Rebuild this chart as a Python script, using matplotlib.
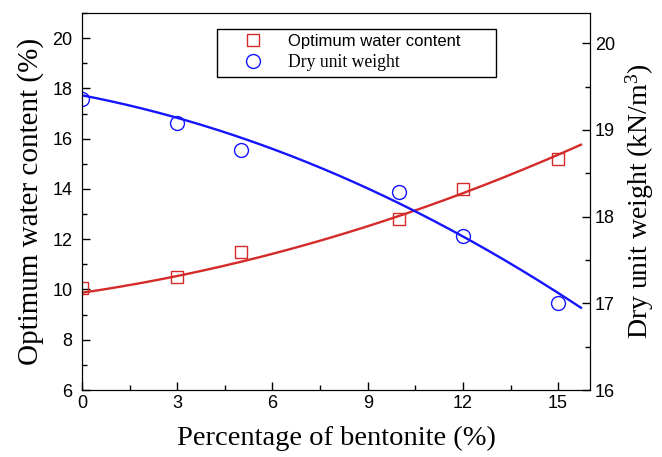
import numpy as np
import matplotlib
matplotlib.use("Agg")
import matplotlib.pyplot as plt
from matplotlib.lines import Line2D
from matplotlib.ticker import MultipleLocator

plt.rcParams['mathtext.fontset'] = 'custom'
plt.rcParams['mathtext.rm'] = 'Liberation Serif'
plt.rcParams['mathtext.it'] = 'Liberation Serif:italic'

# bentonite content (%)
bentonite = [0, 3, 5, 10, 12, 15]
# optimum water content (%), left axis
owc = [10.05, 10.5, 11.5, 12.8, 14.0, 15.2]
# dry unit weight (kN/m3), right axis
dry_weight = [19.36, 19.08, 18.77, 18.28, 17.78, 17.0]

# fitted curves as drawn in the figure: y = c0 + c1*x + c2*x^2
owc_fit = [9.87, 0.186, 0.012]
dw_fit = [19.40, -0.0704, -0.00544]
fit_xmax = 15.72

red = '#d42a2a'
blue = '#1414ff'
serif = 'Liberation Serif'
sans = 'Liberation Sans'

fig = plt.figure(figsize=(6.62, 4.57), dpi=100)
ax = fig.add_axes([0.124, 0.1466, 0.767, 0.825])
ax2 = ax.twinx()

xf = np.linspace(0, fit_xmax, 200)
ax.plot(xf, np.polyval(owc_fit[::-1], xf), color=red, lw=1.7)
ax2.plot(xf, np.polyval(dw_fit[::-1], xf), color=blue, lw=1.7)

ax.plot(bentonite, owc, ls='none', marker='s', ms=8.5, mfc='none', mec=red, mew=1.0)
ax2.plot(bentonite, dry_weight, ls='none', marker='o', ms=10, mfc='none', mec=blue, mew=1.0)

ax.set_xlim(0, 16)
ax.set_ylim(6, 21)
ax2.set_ylim(16, 20.35)
ax.xaxis.set_major_locator(MultipleLocator(3))
ax.xaxis.set_minor_locator(MultipleLocator(1.5))
ax.yaxis.set_major_locator(MultipleLocator(2))
ax.yaxis.set_minor_locator(MultipleLocator(1))
ax2.yaxis.set_major_locator(MultipleLocator(1))
ax2.yaxis.set_minor_locator(MultipleLocator(0.5))

for a in (ax, ax2):
    a.tick_params(which='major', direction='in', length=6, width=1, labelsize=13)
    a.tick_params(which='minor', direction='in', length=3.5, width=1)
    for lab in a.get_xticklabels() + a.get_yticklabels():
        lab.set_fontfamily(sans)
ax.tick_params(axis='y', which='both', right=False, pad=7)
ax2.tick_params(axis='y', which='both', left=False)

ax.set_xlabel('Percentage of bentonite (%)', fontsize=20.5, family=serif, labelpad=10)
ax.set_ylabel('Optimum water content (%)', fontsize=21, family=serif, labelpad=6)
ax2.set_ylabel('Dry unit weight (kN/m$^{3}$)', fontsize=20, family=serif, labelpad=6)

handles = [
    Line2D([], [], ls='none', marker='s', ms=8.5, mfc='none', mec=red, mew=1.0),
    Line2D([], [], ls='none', marker='o', ms=10, mfc='none', mec=blue, mew=1.0),
]
leg = ax2.legend(handles, ['Optimum water content', 'Dry unit weight'],
                 loc='upper left', bbox_to_anchor=(0.266, 0.822, 0.549, 0.136),
                 mode='expand', borderaxespad=0, prop={'size': 12.5},
                 fancybox=False, edgecolor='black', framealpha=1,
                 handlelength=3.56, handletextpad=0.2, borderpad=0.3, labelspacing=0.3)
leg.get_frame().set_linewidth(1.0)
t1, t2 = leg.get_texts()
t1.set_fontfamily(sans)
t1.set_fontsize(12)
t2.set_fontfamily(serif)
t2.set_fontsize(12.7)

fig.savefig('out.png', dpi=100)
